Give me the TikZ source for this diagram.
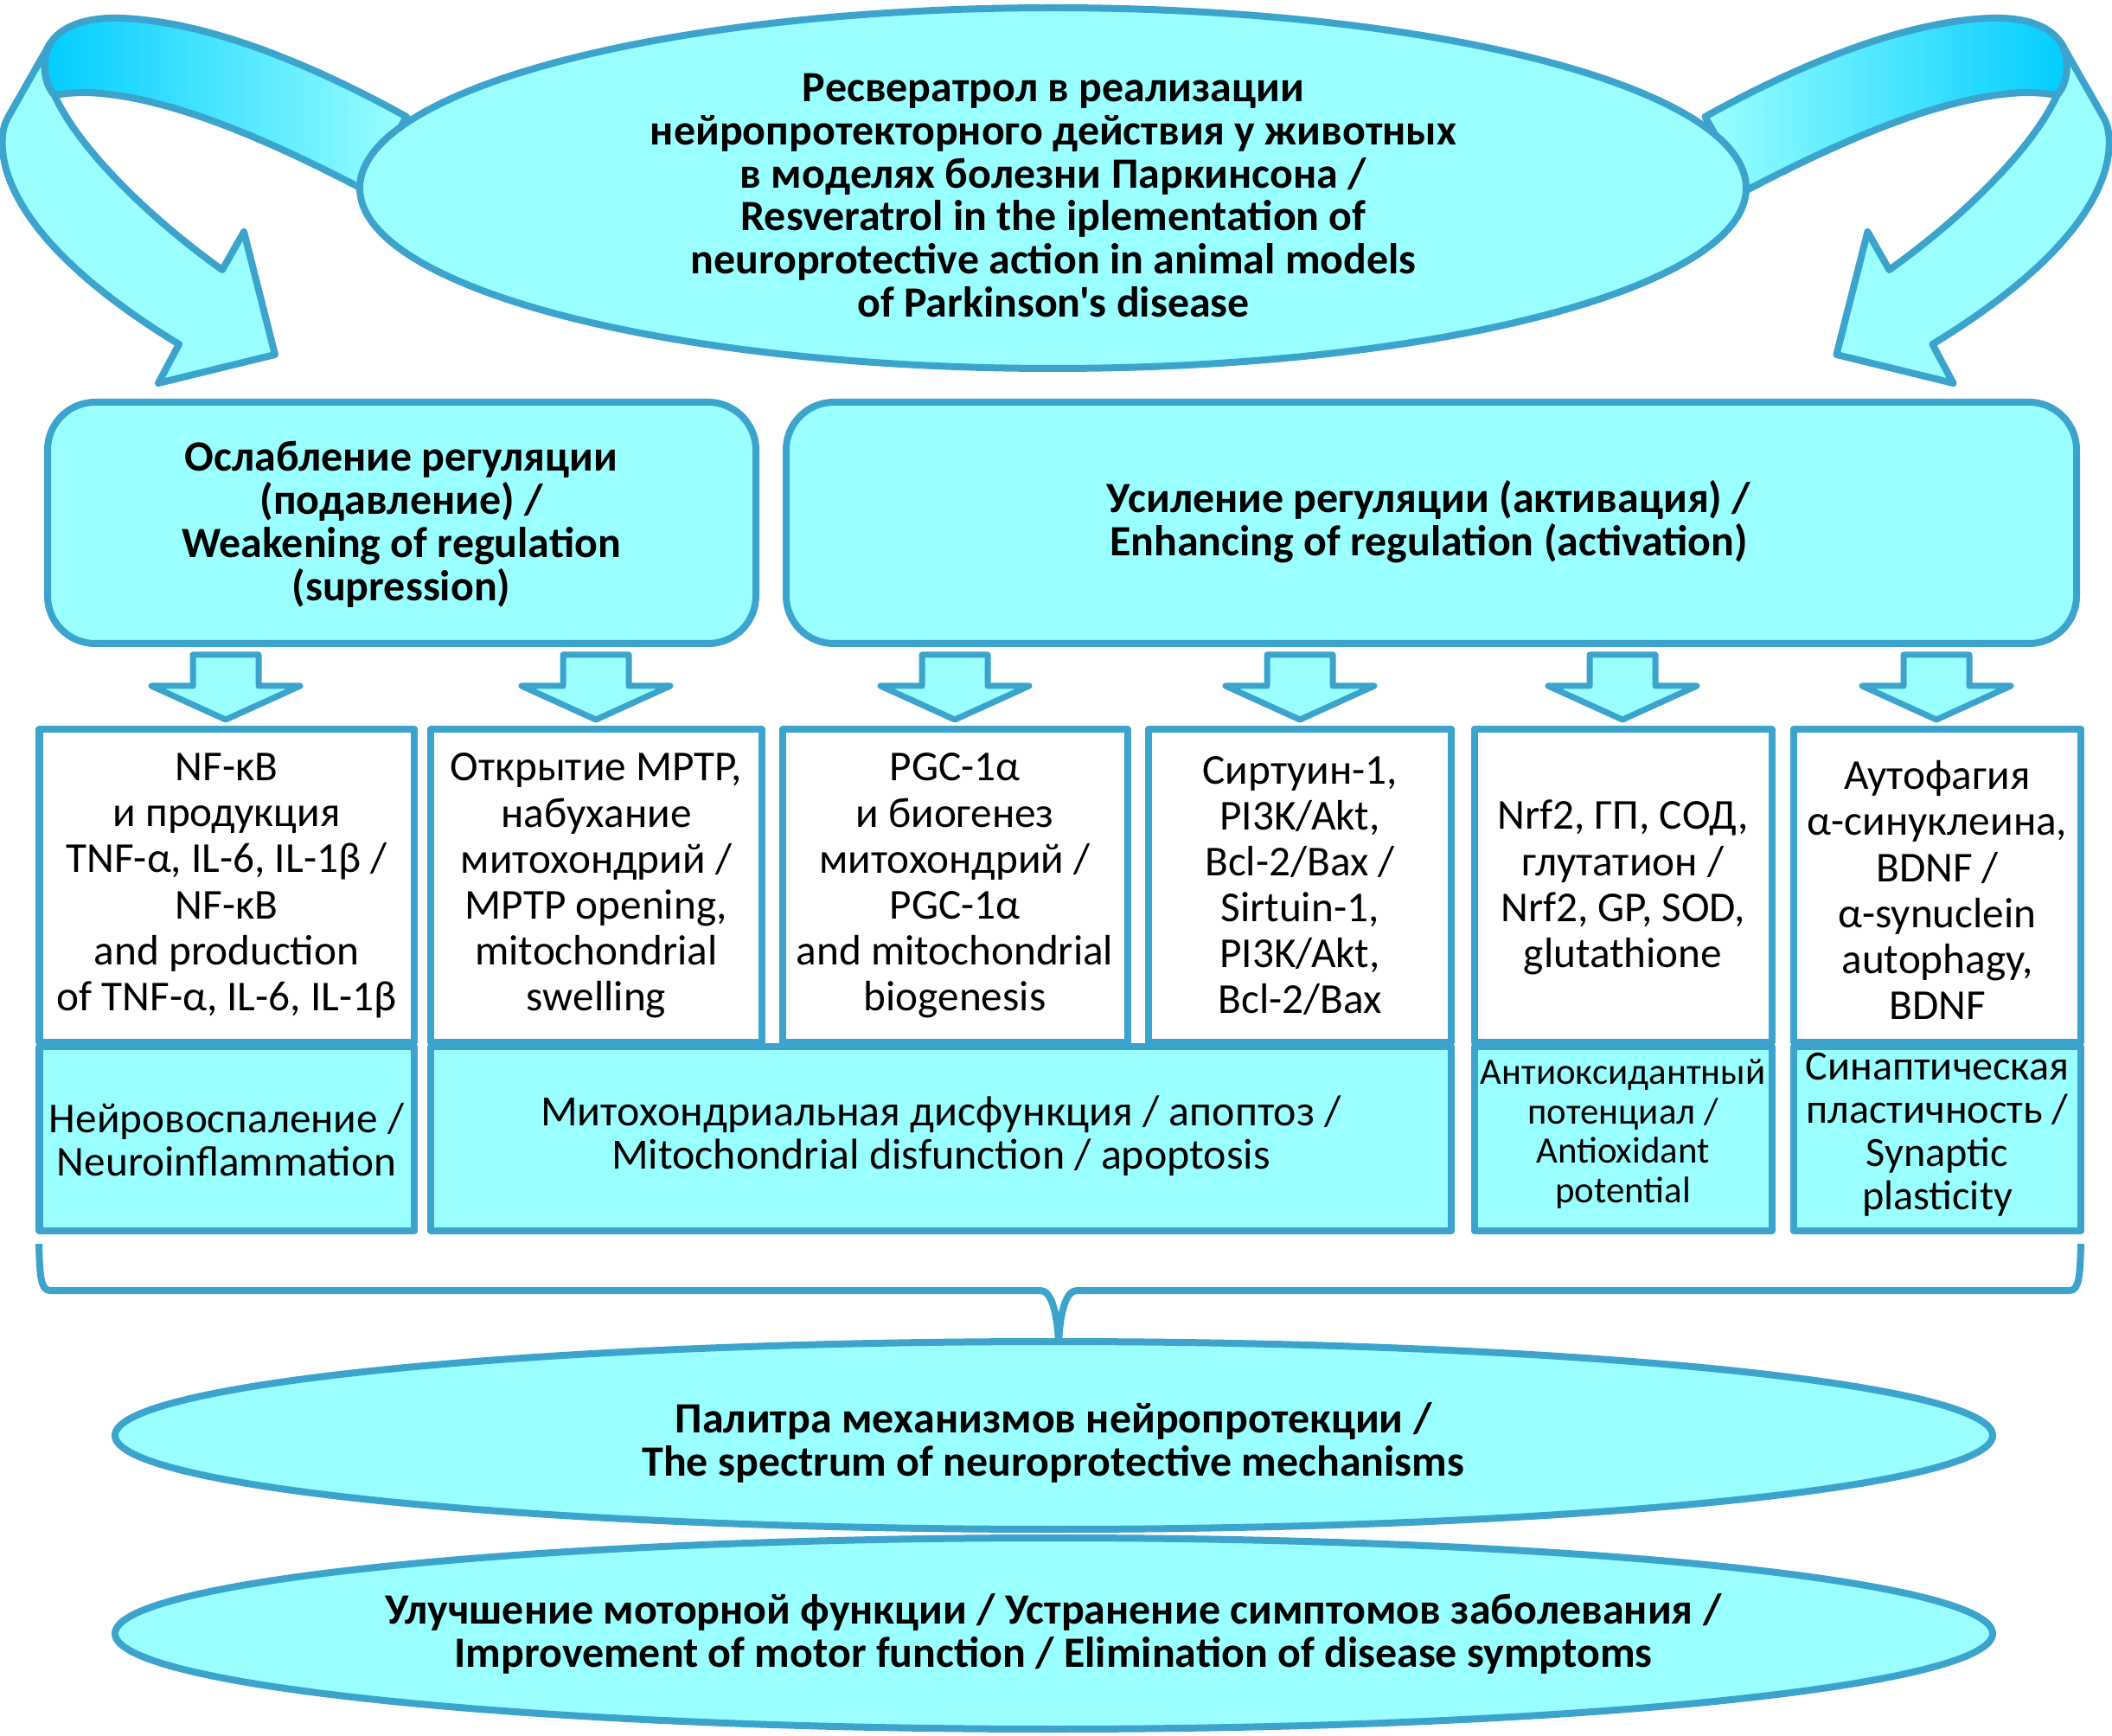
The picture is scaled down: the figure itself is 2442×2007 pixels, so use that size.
\documentclass[tikz,border=0pt]{standalone}
\usepackage{fontspec}
\setmainfont{Carlito}[Ligatures=TeXOff]
\definecolor{edge}{RGB}{59,163,204}
\definecolor{aqua}{RGB}{153,255,255}
\definecolor{deep}{RGB}{0,204,255}
\begin{document}
\begin{tikzpicture}[x=0.01cm,y=-0.01cm,line join=round,
  outl/.style={draw=edge,line width=0.08cm},
  thinout/.style={draw=edge,line width=0.07cm},
  txt/.style={align=center,inner sep=0,font={\fontsize{14}{15.1}\selectfont}},
  smalltxt/.style={align=center,inner sep=0,font={\fontsize{12.2}{13}\selectfont}},
  midtxt/.style={align=center,inner sep=0,font={\fontsize{14}{14.2}\selectfont}},
  headtxt/.style={align=center,inner sep=0,font={\fontsize{14.2}{14.2}\selectfont\bfseries}}]
\useasboundingbox (0,0) rectangle (2442,2007);
% left ribbon
\path[outl,fill=aqua] (58,50) -- (9,136) .. controls (0,152) and (0,180) .. (12,210)
  .. controls (40,280) and (120,345) .. (207,398) -- (183,443) -- (318,410) -- (282,268) -- (257,312)
  .. controls (170,250) and (90,170) .. (63,110) .. controls (50,95) and (48,70) .. (58,50) -- cycle;
\path[outl,left color=deep,right color=aqua] (58,50) .. controls (75,25) and (110,20) .. (140,21)
  .. controls (250,25) and (380,85) .. (470,135) -- (422,220)
  .. controls (330,172) and (200,110) .. (100,107) .. controls (80,107) and (70,109) .. (63,110)
  .. controls (50,95) and (48,70) .. (58,50) -- cycle;
% right ribbon (mirror)
\begin{scope}[xshift=24.40cm,xscale=-1]
\path[outl,fill=aqua] (58,50) -- (9,136) .. controls (0,152) and (0,180) .. (12,210)
  .. controls (40,280) and (120,345) .. (207,398) -- (183,443) -- (318,410) -- (282,268) -- (257,312)
  .. controls (170,250) and (90,170) .. (63,110) .. controls (50,95) and (48,70) .. (58,50) -- cycle;
\path[outl,left color=aqua,right color=deep] (58,50) .. controls (75,25) and (110,20) .. (140,21)
  .. controls (250,25) and (380,85) .. (470,135) -- (422,220)
  .. controls (330,172) and (200,110) .. (100,107) .. controls (80,107) and (70,109) .. (63,110)
  .. controls (50,95) and (48,70) .. (58,50) -- cycle;
\end{scope}
% top ellipse
\path[outl,fill=aqua] (1217.5,217.5) ellipse [x radius=801.5,y radius=208.5];
\node[headtxt] (top) at (1218,226) {Ресвератрол в реализации\\нейропротекторного действия у животных\\в моделях болезни Паркинсона /\\Resveratrol in the iplementation of\\neuroprotective action in animal models\\of Parkinson's disease};
% regulation boxes
\path[outl,fill=aqua,rounded corners=0.55cm] (55,465) rectangle (874,744);
\node[headtxt] (weak) at (464,606) {Ослабление регуляции\\(подавление) /\\Weakening of regulation\\(supression)};
\path[outl,fill=aqua,rounded corners=0.55cm] (909,465) rectangle (2401,744);
\node[headtxt] (enh) at (1652,603) {Усиление регуляции (активация) /\\Enhancing of regulation (activation)};
% small arrows
\foreach \c in {261,689,1104,1503,1876,2239}{
  \path[thinout,fill=aqua] (\c-38,757) -- (\c+38,757) -- (\c+38,793) -- (\c+86,793) -- (\c,832) -- (\c-86,793) -- (\c-38,793) -- cycle;
}
% white boxes
\path[outl,fill=white] (45.5,843) rectangle (479,1205);
\path[outl,fill=white] (498,843) rectangle (881,1205);
\path[outl,fill=white] (904.5,843) rectangle (1303.5,1205);
\path[outl,fill=white] (1328,843) rectangle (1678,1205);
\path[outl,fill=white] (1704.5,843) rectangle (2048.5,1205);
\path[outl,fill=white] (2074,843) rectangle (2406,1205);
\node[txt] (b1) at (262,1024) {NF-κB\\и продукция\\TNF-α, IL-6, IL-1β /\\NF-κB\\and production\\of TNF-α, IL-6, IL-1β};
\node[txt] (b2) at (689.5,1024) {Открытие MPTP,\\набухание\\митохондрий /\\MPTP opening,\\mitochondrial\\swelling};
\node[txt] (b3) at (1104,1024) {PGC-1α\\и биогенез\\митохондрий /\\PGC-1α\\and mitochondrial\\biogenesis};
\node[txt] (b4) at (1503,1024) {Сиртуин-1,\\PI3K/Akt,\\Bcl-2/Bax /\\Sirtuin-1,\\PI3K/Akt,\\Bcl-2/Bax};
\node[txt] (b5) at (1876.5,1026) {Nrf2, ГП, СОД,\\глутатион /\\Nrf2, GP, SOD,\\glutathione};
\node[txt] (b6) at (2240,1029) {Аутофагия\\α-синуклеина,\\BDNF /\\α-synuclein\\autophagy,\\BDNF};
% cyan boxes
\path[outl,fill=aqua] (45.5,1210) rectangle (479,1423);
\path[outl,fill=aqua] (498,1210) rectangle (1678,1423);
\path[outl,fill=aqua] (1704.5,1210) rectangle (2048.5,1423);
\path[outl,fill=aqua] (2074,1210) rectangle (2406,1423);
\node[midtxt] (c1) at (262,1318) {Нейровоспаление /\\Neuroinflammation};
\node[midtxt,font={\fontsize{14.2}{14.2}\selectfont}] (c2) at (1088,1313) {Митохондриальная дисфункция / апоптоз /\\Mitochondrial disfunction / apoptosis};
\node[smalltxt] (c3) at (1876.5,1311) {Антиоксидантный\\потенциал /\\Antioxidant\\potential};
\node[midtxt,font={\fontsize{13.7}{14.2}\selectfont}] (c4) at (2240,1312) {Синаптическая\\пластичность /\\Synaptic\\plasticity};
% brace
\coordinate (cusp) at (1224,1551);
\draw[outl] (45,1438) .. controls (46,1475) and (47,1492) .. (58,1492) -- (1203,1492)
  .. controls (1215,1492) and (1222,1515) .. (cusp);
\draw[outl] (2406,1438) .. controls (2405,1475) and (2404,1492) .. (2393,1492) -- (1245,1492)
  .. controls (1233,1492) and (1226,1515) .. (cusp);
% bottom ellipses
\path[outl,fill=aqua] (1218.5,1888.5) ellipse [x radius=1085.5,y radius=110.5];
\path[outl,fill=aqua] (1218.5,1659.5) ellipse [x radius=1085.5,y radius=108.5];
\node[headtxt] (spec) at (1218,1668) {Палитра механизмов нейропротекции /\\The spectrum of neuroprotective mechanisms};
\node[headtxt] (motor) at (1218,1889) {Улучшение моторной функции / Устранение симптомов заболевания /\\Improvement of motor function / Elimination of disease symptoms};
\end{tikzpicture}
\end{document}
